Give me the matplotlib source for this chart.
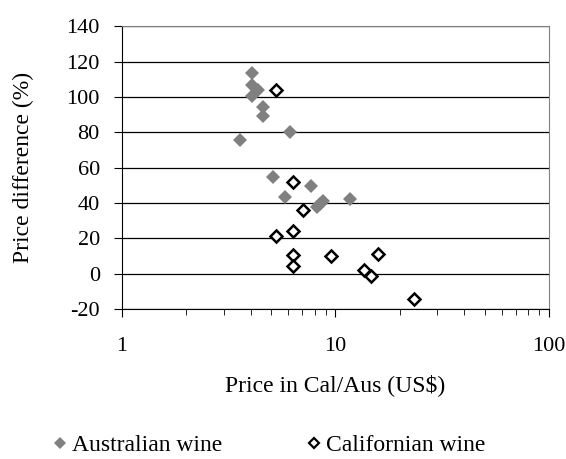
import matplotlib.pyplot as plt
from matplotlib.lines import Line2D

plt.rcParams["font.family"] = ["Liberation Serif", "DejaVu Serif"]
plt.rcParams["axes.unicode_minus"] = False

# Australian wine (filled grey diamonds)
aus_price = [4.08, 4.08, 4.35, 4.08, 4.59, 4.59, 3.57, 6.12, 5.11, 5.82, 7.65, 8.17, 8.5, 8.71, 11.7]
aus_diff = [113.4, 106.8, 103.6, 100.6, 94.2, 88.9, 75.3, 80.0, 54.9, 43.2, 49.8, 37.9, 39.5, 41.3, 42.3]

# Californian wine (open diamonds)
cal_price = [5.28, 6.35, 7.07, 5.28, 6.35, 6.35, 6.35, 9.5, 15.8, 13.6, 14.7, 23.2]
cal_diff = [104.0, 52.0, 36.0, 21.3, 24.2, 10.6, 4.0, 10.0, 10.9, 1.9, -1.3, -14.2]

yticks = [-20, 0, 20, 40, 60, 80, 100, 120, 140]
xticks = [1, 10, 100]
xtick_labels = ["1", "10", "100"]

fig = plt.figure(figsize=(5.66, 4.59), dpi=100)
ax = fig.add_axes([0.2155, 0.327, 0.7545, 0.616])

ax.plot(aus_price, aus_diff, "D", color="#808080", markersize=7.2,
        markeredgewidth=0, linestyle="none", zorder=3)
ax.plot(cal_price, cal_diff, "D", markerfacecolor="white", markeredgecolor="black",
        markersize=6.3, markeredgewidth=1.8, linestyle="none", zorder=4)

ax.set_xscale("log")
ax.set_xlim(1, 100)
ax.set_ylim(-20, 140)
ax.set_yticks(yticks)
ax.set_xticks(xticks)
ax.set_xticklabels(xtick_labels)
ax.yaxis.grid(True, color="black", linewidth=0.9)
ax.set_axisbelow(True)

for side in ["top", "right"]:
    ax.spines[side].set_color("#808080")
ax.spines["left"].set_color("black")
ax.spines["bottom"].set_color("black")

ax.tick_params(axis="both", labelsize=16, direction="out", color="black")
ax.tick_params(axis="y", length=6, pad=10)
ax.tick_params(axis="x", which="major", length=6, pad=14)
ax.tick_params(axis="x", which="minor", length=4)

ax.set_xlabel("Price in Cal/Aus (US$)", fontsize=17)
ax.set_ylabel("Price difference (%)", fontsize=17)
ax.xaxis.set_label_coords(0.5, -0.232)
ax.yaxis.set_label_coords(-0.205, 0.5)

handles = [
    Line2D([], [], marker="D", color="#808080", markersize=6.5, markeredgewidth=0, linestyle="none"),
    Line2D([], [], marker="D", markerfacecolor="white", markeredgecolor="black",
           markersize=5.5, markeredgewidth=1.6, linestyle="none"),
]
fig.legend(handles, ["Australian wine", "Californian wine"], loc="center",
           bbox_to_anchor=(0.475, 0.03), ncol=2, frameon=False, fontsize=17,
           handlelength=0.6, handletextpad=0.2, columnspacing=3.6, borderpad=0)

fig.savefig("out.png", dpi=100)
